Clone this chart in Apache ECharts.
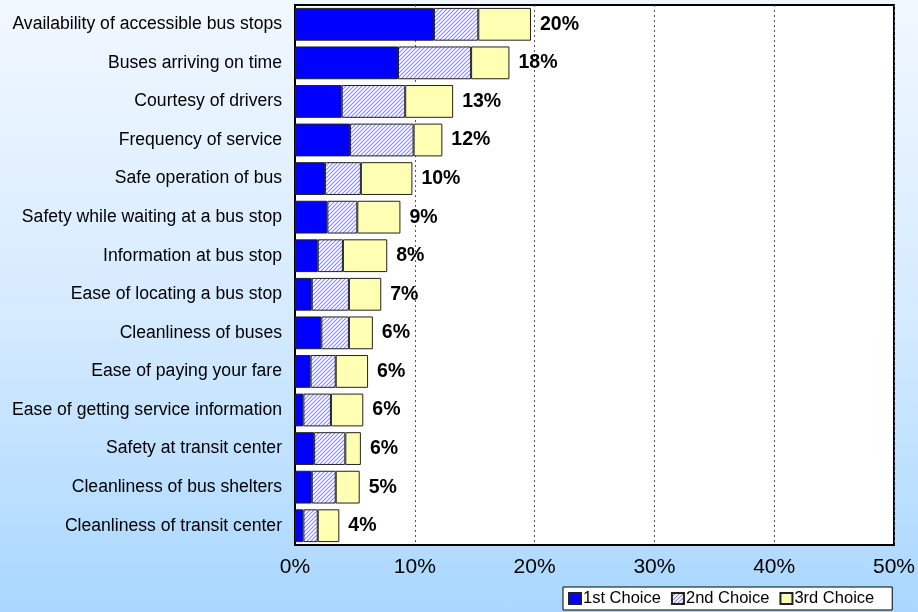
<!DOCTYPE html>
<html>
<head>
<meta charset="utf-8">
<script src="https://cdn.jsdelivr.net/npm/echarts@6/dist/echarts.min.js"></script>
<style>
  html, body { margin: 0; padding: 0; }
  #chart { width: 918px; height: 612px; background: linear-gradient(to bottom, #f1f7ff 0%, #d6ebff 50%, #a9d7ff 100%); }
</style>
</head>
<body>
<div id="chart"></div>
<script>
  // survey items, top to bottom
  var categories = [
    "Availability of accessible bus stops",
    "Buses arriving on time",
    "Courtesy of drivers",
    "Frequency of service",
    "Safe operation of bus",
    "Safety while waiting at a bus stop",
    "Information at bus stop",
    "Ease of locating a bus stop",
    "Cleanliness of buses",
    "Ease of paying your fare",
    "Ease of getting service information",
    "Safety at transit center",
    "Cleanliness of bus shelters",
    "Cleanliness of transit center"
  ];
  var firstChoice  = [11.6, 8.6, 3.9, 4.6, 2.5, 2.7, 1.9, 1.4, 2.2, 1.3, 0.7, 1.6, 1.4, 0.7];
  var secondChoice = [3.7, 6.1, 5.3, 5.3, 3.0, 2.5, 2.1, 3.1, 2.3, 2.1, 2.3, 2.6, 2.0, 1.2];
  var thirdChoice  = [4.4, 3.2, 4.0, 2.4, 4.3, 3.6, 3.7, 2.7, 2.0, 2.7, 2.7, 1.3, 2.0, 1.8];
  var totals = [20, 18, 13, 12, 10, 9, 8, 7, 6, 6, 6, 6, 5, 4];
  var xTicks = ["0%", "10%", "20%", "30%", "40%", "50%"];

  // fine diagonal hatch for 2nd choice
  var hatch = document.createElement("canvas");
  hatch.width = 4; hatch.height = 4;
  var hc = hatch.getContext("2d");
  hc.fillStyle = "#ffffff";
  hc.fillRect(0, 0, 4, 4);
  hc.strokeStyle = "#8a8af2";
  hc.lineWidth = 1.1;
  hc.beginPath();
  hc.moveTo(-1, 5); hc.lineTo(5, -1);
  hc.moveTo(-3, 3); hc.lineTo(3, -3);
  hc.moveTo(1, 7); hc.lineTo(7, 1);
  hc.stroke();

  var font = "Liberation Sans, Arial";
  var myChart = echarts.init(document.getElementById("chart"));
  var barBorder = { borderColor: "#222", borderWidth: 1 };
  var option = {
    animation: false,
    grid: {
      left: 295, right: 24, top: 5, bottom: 67,
      show: true, backgroundColor: "#fff", borderColor: "#000", borderWidth: 2
    },
    legend: {
      left: 563, top: 587,
      icon: "rect", itemWidth: 12, itemHeight: 11, itemGap: 10,
      backgroundColor: "#fff", borderColor: "#000", borderWidth: 1,
      padding: [3, 18, 3, 5],
      textStyle: { fontFamily: font, fontSize: 16.5, color: "#000", padding: [0, 0, 0, -3] },
      data: ["1st Choice", "2nd Choice", "3rd Choice"]
    },
    xAxis: {
      type: "value", min: 0, max: 50, interval: 10,
      axisLine: { show: false }, axisTick: { show: false },
      splitLine: { show: true, lineStyle: { color: "#555", type: [2, 3], width: 1 } },
      axisLabel: {
        margin: 12, fontFamily: font, fontSize: 21, color: "#000",
        formatter: function (v) { return xTicks[v / 10]; }
      }
    },
    yAxis: {
      type: "category", data: categories, inverse: true,
      axisLine: { show: true, lineStyle: { color: "#000", width: 2 } },
      axisTick: { show: false },
      axisLabel: { margin: 13, fontFamily: font, fontSize: 17.6, color: "#000" }
    },
    series: [
      {
        name: "1st Choice", type: "bar", stack: "c", barCategoryGap: "15%",
        data: firstChoice,
        itemStyle: Object.assign({ color: "#0000ff" }, barBorder)
      },
      {
        name: "2nd Choice", type: "bar", stack: "c",
        data: secondChoice,
        itemStyle: Object.assign({ color: { image: hatch, repeat: "repeat" } }, barBorder)
      },
      {
        name: "3rd Choice", type: "bar", stack: "c",
        data: thirdChoice,
        itemStyle: Object.assign({ color: "#ffffb4" }, barBorder),
        label: {
          show: true, position: "right", distance: 9,
          fontFamily: font, fontSize: 19.5, fontWeight: "bold", color: "#000",
          formatter: function (p) { return totals[p.dataIndex] + "%"; }
        }
      }
    ]
  };
  myChart.setOption(option);
</script>
</body>
</html>
